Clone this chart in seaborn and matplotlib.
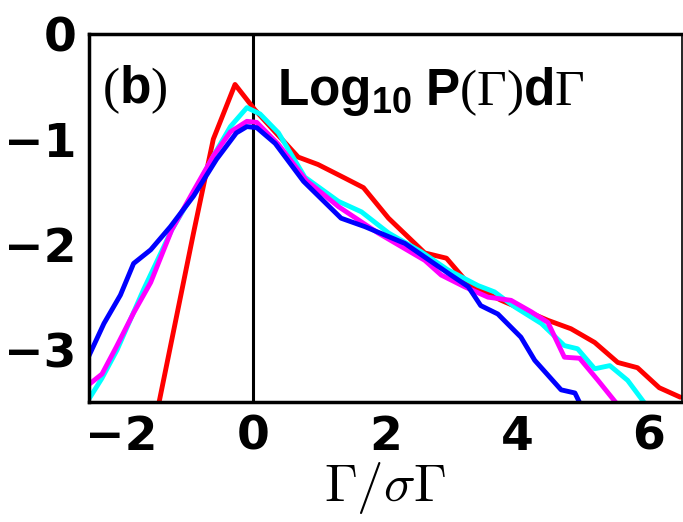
import matplotlib
matplotlib.use("Agg")
import matplotlib.pyplot as plt
import seaborn as sns
import pandas as pd

# Log10 of the normalised distribution P(Gamma) for four data sets
red_x = [-1.45, -0.91, -0.61, -0.28, 0.02, 0.68, 0.98, 1.39, 1.67, 2.05, 2.60, 2.93,
         3.26, 3.76, 4.47, 4.82, 5.18, 5.53, 5.83, 6.16, 6.48]
red_y = [-3.55, -1.89, -1.00, -0.48, -0.72, -1.17, -1.24, -1.37, -1.46, -1.75, -2.08, -2.13,
         -2.37, -2.53, -2.72, -2.80, -2.93, -3.12, -3.17, -3.36, -3.45]

cyan_x = [-2.53, -2.30, -2.07, -1.67, -1.24, -0.90, -0.60, -0.35, -0.10, 0.10, 0.38, 0.78,
          1.29, 1.64, 2.05, 2.55, 2.95, 3.41, 3.66, 3.96, 4.37, 4.72, 4.92, 5.18, 5.41,
          5.68, 5.93]
cyan_y = [-3.50, -3.27, -3.00, -2.43, -1.86, -1.50, -1.15, -0.88, -0.70, -0.76, -0.94, -1.36,
          -1.59, -1.69, -1.89, -2.07, -2.24, -2.39, -2.45, -2.59, -2.75, -2.96, -2.99, -3.18,
          -3.15, -3.29, -3.50]

magenta_x = [-2.50, -2.30, -2.08, -1.82, -1.56, -1.24, -0.90, -0.60, -0.35, -0.10, 0.05, 0.38,
             0.80, 1.29, 1.89, 2.60, 2.85, 3.20, 3.56, 3.91, 4.22, 4.47, 4.72, 4.95, 5.23, 5.50]
magenta_y = [-3.33, -3.23, -2.97, -2.65, -2.36, -1.86, -1.48, -1.15, -0.93, -0.83, -0.84, -1.05,
             -1.39, -1.64, -1.89, -2.15, -2.29, -2.40, -2.50, -2.53, -2.64, -2.74, -3.07, -3.08,
             -3.29, -3.50]

blue_x = [-2.50, -2.27, -2.02, -1.82, -1.56, -1.26, -0.91, -0.56, -0.26, -0.10, 0.05, 0.33,
          0.76, 1.33, 1.69, 2.30, 2.95, 3.26, 3.45, 3.71, 4.06, 4.27, 4.67, 4.88, 4.95]
blue_y = [-3.06, -2.75, -2.48, -2.18, -2.05, -1.83, -1.54, -1.19, -0.94, -0.88, -0.89, -1.04,
          -1.40, -1.75, -1.83, -1.99, -2.27, -2.40, -2.58, -2.66, -2.88, -3.10, -3.38, -3.41,
          -3.50]

x_ticks = [-2, 0, 2, 4, 6]
y_ticks = [0, -1, -2, -3]

series = [("red", red_x, red_y, "#ff0000"),
          ("cyan", cyan_x, cyan_y, "#00ffff"),
          ("magenta", magenta_x, magenta_y, "#ff00ff"),
          ("blue", blue_x, blue_y, "#0000ff")]

frames = [pd.DataFrame({"x": xs, "y": ys, "set": name}) for name, xs, ys, _ in series]
df = pd.concat(frames, ignore_index=True)
palette = {name: col for name, _, _, col in series}

sns.set_theme(style="white")
plt.rcParams.update({
    "font.family": ["Liberation Sans", "DejaVu Sans"],
    "text.color": "black",
    "axes.labelcolor": "black",
    "xtick.color": "black",
    "ytick.color": "black",
    "mathtext.fontset": "custom",
    "mathtext.rm": "Liberation Serif",
    "mathtext.it": "Liberation Serif:italic",
    "mathtext.bf": "Liberation Sans:bold",
    "axes.unicode_minus": True,
})

fig = plt.figure(figsize=(6.83, 5.22), dpi=100)
ax = fig.add_axes([0.130, 0.229, 0.868, 0.706])

sns.lineplot(data=df, x="x", y="y", hue="set", palette=palette, sort=False,
             estimator=None, linewidth=3.5, legend=False, ax=ax)

ax.axvline(0, color="black", linewidth=2.2, zorder=0.5)

ax.set_xlim(-2.5, 6.5)
ax.set_ylim(-3.5, 0)
ax.set_xticks(x_ticks)
ax.set_yticks(y_ticks)
tick_font = {"family": "DejaVu Sans", "weight": "bold", "size": 34}
ax.set_xticklabels([f"{t}".replace("-", "\u2212") for t in x_ticks], fontdict=tick_font)
ax.set_yticklabels([f"{t}".replace("-", "\u2212") for t in y_ticks], fontdict=tick_font)
ax.tick_params(axis="both", direction="in", length=3, width=1, color="#888888")
ax.tick_params(axis="x", pad=9)
ax.tick_params(axis="y", pad=9)

for side, lw in (("left", 2.5), ("bottom", 2.5), ("top", 2.5), ("right", 1.2)):
    ax.spines[side].set_visible(True)
    ax.spines[side].set_color("black")
    ax.spines[side].set_linewidth(lw)

ax.set_xlabel(r"$\Gamma/\sigma\Gamma$", fontsize=38, labelpad=0, math_fontfamily="cm")
ax.set_ylabel("")

ax.text(0.022, 0.813, r"$(\mathbf{b})$", transform=ax.transAxes, fontsize=37,
        ha="left", va="baseline")
ax.text(0.317, 0.806, r"$\mathbf{Log_{10}\ P}(\Gamma)\mathbf{d}\Gamma$", transform=ax.transAxes,
        fontsize=37, ha="left", va="baseline")

fig.savefig("out.png", dpi=100, facecolor="white")
